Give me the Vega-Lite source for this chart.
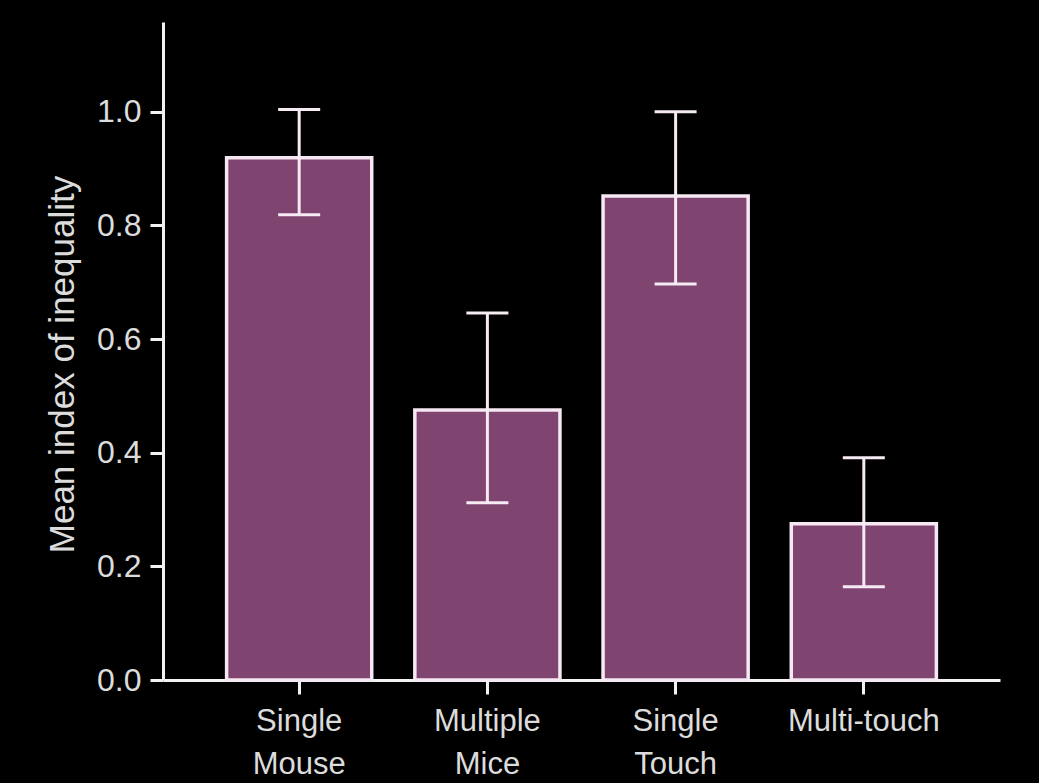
{
  "$schema": "https://vega.github.io/schema/vega-lite/v6.json",
  "width": 837,
  "height": 658,
  "autosize": "none",
  "padding": {"left": 163, "top": 22, "right": 39, "bottom": 103},
  "background": "#000000",
  "config": {
    "view": {"stroke": null},
    "font": "Liberation Sans",
    "axis": {
      "grid": false,
      "domainColor": "#f2f2f2",
      "domainWidth": 3,
      "tickColor": "#f2f2f2",
      "tickWidth": 3,
      "tickSize": 14,
      "labelColor": "#dcdcdc",
      "labelFontSize": 32,
      "labelFont": "Liberation Sans",
      "titleColor": "#dcdcdc",
      "titleFont": "Liberation Sans",
      "titleFontWeight": "normal",
      "titleFontSize": 35
    }
  },
  "data": {
    "values": [
      {"cond": "Single Mouse", "mean": 0.919, "lo": 0.819, "hi": 1.004},
      {"cond": "Multiple Mice", "mean": 0.475, "lo": 0.312, "hi": 0.646},
      {"cond": "Single Touch", "mean": 0.852, "lo": 0.697, "hi": 1.0},
      {"cond": "Multi-touch", "mean": 0.275, "lo": 0.164, "hi": 0.391}
    ]
  },
  "encoding": {
    "x": {
      "field": "cond",
      "type": "nominal",
      "sort": null,
      "scale": {"paddingInner": 0.229, "paddingOuter": 0.338},
      "axis": {
        "title": null,
        "labelAngle": 0,
        "labelPadding": 12,
        "labelFontSize": 31,
        "labelLineHeight": 43,
        "labelExpr": "datum.label == 'Multi-touch' ? 'Multi-touch' : split(datum.label, ' ')"
      }
    }
  },
  "layer": [
    {
      "mark": {"type": "bar", "fill": "#7f4470", "stroke": "#f6e8f2", "strokeWidth": 3.5},
      "encoding": {
        "y": {
          "field": "mean",
          "type": "quantitative",
          "scale": {"domain": [0, 1.158], "nice": false, "zero": true},
          "axis": {
            "title": "Mean index of inequality",
            "values": [0, 0.2, 0.4, 0.6, 0.8, 1.0],
            "format": ".1f",
            "tickSize": 13,
            "labelPadding": 9,
            "titleBaseline": "alphabetic",
            "titleX": -90,
            "titleY": 342
          }
        }
      }
    },
    {
      "mark": {"type": "rule", "color": "#f6eaf3", "strokeWidth": 3, "opacity": 1},
      "encoding": {
        "y": {"field": "lo", "type": "quantitative"},
        "y2": {"field": "hi"}
      }
    },
    {
      "mark": {"type": "tick", "color": "#f6eaf3", "thickness": 3, "size": 42, "orient": "horizontal", "opacity": 1},
      "encoding": {"y": {"field": "lo", "type": "quantitative"}}
    },
    {
      "mark": {"type": "tick", "color": "#f6eaf3", "thickness": 3, "size": 42, "orient": "horizontal", "opacity": 1},
      "encoding": {"y": {"field": "hi", "type": "quantitative"}}
    }
  ]
}
